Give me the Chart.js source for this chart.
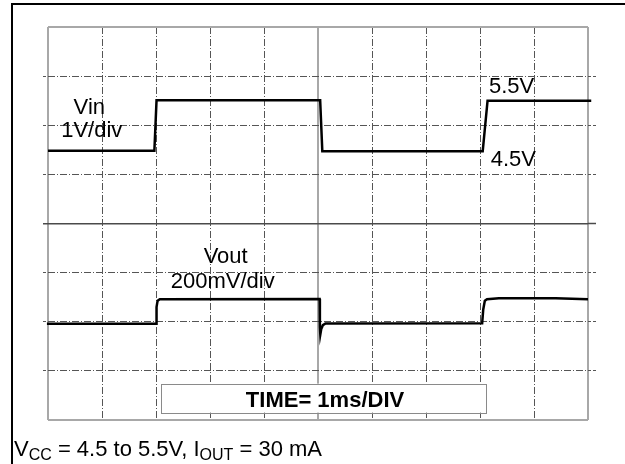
<!DOCTYPE html>
<html>
<head>
<meta charset="utf-8">
<script src="https://cdn.jsdelivr.net/npm/chart.js@4.4.0/dist/chart.umd.min.js"></script>
<style>
  html, body { margin: 0; padding: 0; background: #fff; }
  #wrap { position: relative; width: 625px; height: 464px; overflow: hidden; }
  #frame { position: absolute; left: 11px; top: 3px; width: 700px; height: 600px;
           border-left: 2px solid #000; border-top: 2px solid #000; }
  #c { position: absolute; left: 0; top: 0; }
  #foot { position: absolute; left: 14px; top: 436px; line-height: 22px; white-space: nowrap;
          font: 22px "Liberation Sans", Arial, sans-serif; color: #000; }
  #foot span { font-size: 16px; position: relative; top: 4px; }
</style>
</head>
<body>
<div id="wrap">
  <div id="frame"></div>
  <canvas id="c" width="625" height="464"></canvas>
  <div id="foot">V<span>CC</span> = 4.5 to 5.5V, I<span>OUT</span> = 30 mA</div>
</div>
<script>
// time in ms (1 ms/div), levels in screen divisions (8 divisions full scale)
var vinTime  = [0, 1.97, 2.01, 5.04, 5.08, 8.05, 8.14, 10.06];
var vinLevel = [5.48, 5.48, 6.51, 6.51, 5.47, 5.47, 6.50, 6.50];

var voutTime  = [-0.02, 2.0, 2.01, 2.03, 2.07, 5.03, 5.035, 5.043, 5.06, 5.09, 5.14, 8.04, 8.06, 8.09, 8.13, 8.35, 9.4, 10.0];
var voutLevel = [1.96, 1.96, 2.30, 2.43, 2.46, 2.465, 1.90, 1.74, 1.85, 1.93, 1.965, 1.97, 2.25, 2.43, 2.46, 2.48, 2.48, 2.46];

var timeDivs = 10;
var voltDivs = 8;

function pts(xs, ys) {
    return xs.map(function (t, i) { return {x: t, y: ys[i]}; });
}

var FONT = '"Liberation Sans", Arial, sans-serif';
var DASH = [7, 2, 1, 2];

// x grid: frame edges + center are solid light grey, rest dashed
function xEdge(c) { return c.index === 0 || c.index === timeDivs || c.index === timeDivs / 2; }
function yEdge(c) { return c.index === 0 || c.index === voltDivs; }
function yMid(c) { return c.index === voltDivs / 2; }

// labels and the time base box, drawn on top of the traces
var notes = {
    id: 'notes',
    afterDatasetsDraw: function (chart) {
        var ctx = chart.ctx;
        var x = chart.scales.x, y = chart.scales.y;
        ctx.save();

        var bx1 = x.getPixelForValue(2.1), bx2 = x.getPixelForValue(8.12);
        var by1 = y.getPixelForValue(0.74), by2 = y.getPixelForValue(0.15);
        ctx.fillStyle = '#fff';
        ctx.fillRect(bx1, by1, bx2 - bx1, by2 - by1);
        ctx.strokeStyle = '#8a8a8a';
        ctx.lineWidth = 1;
        ctx.strokeRect(Math.round(bx1) + 0.5, Math.round(by1) + 0.5, Math.round(bx2 - bx1), Math.round(by2 - by1));

        ctx.fillStyle = '#000';
        ctx.textBaseline = 'alphabetic';
        ctx.font = 'bold 22px ' + FONT;
        ctx.textAlign = 'center';
        ctx.fillText('TIME= 1ms/DIV', x.getPixelForValue(5.13), y.getPixelForValue(0.258));

        ctx.font = '22px ' + FONT;
        ctx.fillText('Vin', x.getPixelForValue(0.765), y.getPixelForValue(6.223));
        ctx.fillText('1V/div', x.getPixelForValue(0.81), y.getPixelForValue(5.755));
        ctx.fillText('Vout', x.getPixelForValue(3.29), y.getPixelForValue(3.19));
        ctx.fillText('200mV/div', x.getPixelForValue(3.235), y.getPixelForValue(2.68));

        ctx.textAlign = 'left';
        ctx.fillText('5.5V', x.getPixelForValue(8.167), y.getPixelForValue(6.65));
        ctx.fillText('4.5V', x.getPixelForValue(8.198), y.getPixelForValue(5.177));
        ctx.restore();
    }
};

var yTickColor = function (c) { return yEdge(c) ? 'rgba(0,0,0,0)' : (yMid(c) ? '#4a4a4a' : '#555'); };

new Chart(document.getElementById('c'), {
    type: 'line',
    data: {
        datasets: [
            {
                label: 'Vin',
                data: pts(vinTime, vinLevel),
                borderColor: '#000',
                borderWidth: 2.5,
                pointRadius: 0,
                tension: 0,
                clip: 8
            },
            {
                label: 'Vout',
                data: pts(voutTime, voutLevel),
                borderColor: '#000',
                borderWidth: 2.5,
                pointRadius: 0,
                tension: 0,
                clip: 8
            }
        ]
    },
    options: {
        responsive: false,
        animation: false,
        devicePixelRatio: 1,
        layout: { padding: { left: 43, right: 29, top: 27, bottom: 44 } },
        plugins: { legend: { display: false }, tooltip: { enabled: false } },
        scales: {
            x: {
                type: 'linear',
                min: 0,
                max: timeDivs,
                ticks: { stepSize: 1, display: false },
                grid: {
                    drawTicks: false,
                    color: function (c) { return xEdge(c) ? '#a8a8a8' : '#555'; },
                    lineWidth: function (c) { return xEdge(c) ? 2 : 1; }
                },
                border: {
                    display: false,
                    dash: function (c) { return xEdge(c) ? [] : DASH; }
                }
            },
            y: {
                position: 'left',
                min: 0,
                max: voltDivs,
                ticks: { stepSize: 1, display: false },
                grid: {
                    drawTicks: true,
                    tickLength: 5,
                    color: function (c) { return yEdge(c) ? '#a8a8a8' : (yMid(c) ? '#4a4a4a' : '#555'); },
                    lineWidth: function (c) { return yEdge(c) ? 2 : (yMid(c) ? 1.5 : 1); },
                    tickColor: yTickColor,
                    tickWidth: function (c) { return yMid(c) ? 1.5 : 1; },
                    tickBorderDash: function (c) { return yMid(c) ? [] : [3, 2]; }
                },
                border: {
                    display: false,
                    dash: function (c) { return (yEdge(c) || yMid(c)) ? [] : DASH; }
                }
            },
            y2: {
                position: 'right',
                min: 0,
                max: voltDivs,
                ticks: { stepSize: 1, display: false },
                grid: {
                    drawOnChartArea: false,
                    drawTicks: true,
                    tickLength: 8,
                    tickColor: yTickColor,
                    tickWidth: function (c) { return yMid(c) ? 1.5 : 1; },
                    tickBorderDash: function (c) { return yMid(c) ? [] : [3, 2]; }
                },
                border: { display: false }
            }
        }
    },
    plugins: [notes]
});
</script>
</body>
</html>
